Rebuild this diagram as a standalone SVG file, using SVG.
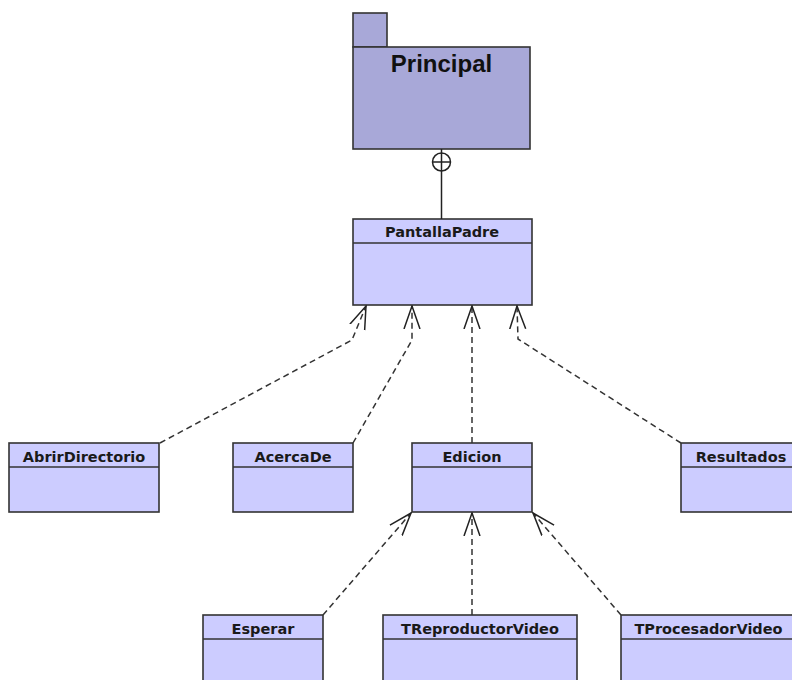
<svg xmlns="http://www.w3.org/2000/svg" width="792" height="680" viewBox="0 0 792 680">
  <style>
    .cls { fill: #ccccff; stroke: #333333; stroke-width: 1.6; }
    .pkg { fill: #a8a8d8; stroke: #333333; stroke-width: 1.6; }
    .name { font-family: "DejaVu Sans", sans-serif; font-weight: bold; font-size: 14.5px; fill: #1a1a1a; text-anchor: middle; }
    .pkgname { font-family: "Liberation Sans", Arial, sans-serif; font-weight: bold; font-size: 24px; fill: #111111; text-anchor: middle; }
    .dep { fill: none; stroke: #333333; stroke-width: 1.5; stroke-dasharray: 6 4; }
    .solid { fill: none; stroke: #222222; stroke-width: 1.5; }
  </style>
  <defs>
    <!-- open arrowhead for dependencies, tip at the end of the line -->
    <marker id="open" viewBox="0 0 24 20" refX="23" refY="10" markerWidth="24" markerHeight="20" markerUnits="userSpaceOnUse" orient="auto">
      <path d="M0,2 L23,10 L0,18" fill="none" stroke="#222222" stroke-width="1.5"/>
    </marker>
  </defs>
  <rect width="792" height="680" fill="#ffffff"/>

  <g id="Principal">
    <rect class="pkg" x="353" y="13" width="34" height="34"/>
    <rect class="pkg" x="353" y="47" width="177" height="102"/>
    <text class="pkgname" x="441.5" y="72">Principal</text>
  </g>

  <g id="PantallaPadre">
    <rect class="cls" x="353" y="219" width="179" height="86"/>
    <line class="cls" x1="353" y1="243" x2="532" y2="243"/>
    <text class="name" x="442" y="237">PantallaPadre</text>
  </g>

  <g id="AbrirDirectorio">
    <rect class="cls" x="9" y="443" width="150" height="69"/>
    <line class="cls" x1="9" y1="467" x2="159" y2="467"/>
    <text class="name" x="84" y="462">AbrirDirectorio</text>
  </g>

  <g id="AcercaDe">
    <rect class="cls" x="233" y="443" width="120" height="69"/>
    <line class="cls" x1="233" y1="467" x2="353" y2="467"/>
    <text class="name" x="293" y="462">AcercaDe</text>
  </g>

  <g id="Edicion">
    <rect class="cls" x="412" y="443" width="120" height="69"/>
    <line class="cls" x1="412" y1="467" x2="532" y2="467"/>
    <text class="name" x="472" y="462">Edicion</text>
  </g>

  <g id="Resultados">
    <rect class="cls" x="681" y="443" width="120" height="69"/>
    <line class="cls" x1="681" y1="467" x2="801" y2="467"/>
    <text class="name" x="741" y="462">Resultados</text>
  </g>

  <g id="Esperar">
    <rect class="cls" x="203" y="615" width="120" height="80"/>
    <line class="cls" x1="203" y1="639" x2="323" y2="639"/>
    <text class="name" x="263" y="634">Esperar</text>
  </g>

  <g id="TReproductorVideo">
    <rect class="cls" x="383" y="615" width="194" height="80"/>
    <line class="cls" x1="383" y1="639" x2="577" y2="639"/>
    <text class="name" x="480" y="634">TReproductorVideo</text>
  </g>

  <g id="TProcesadorVideo">
    <rect class="cls" x="621" y="615" width="175" height="80"/>
    <line class="cls" x1="621" y1="639" x2="796" y2="639"/>
    <text class="name" x="708.5" y="634">TProcesadorVideo</text>
  </g>

  <g id="connectors">
    <!-- containment: PantallaPadre nested in Principal -->
    <line class="solid" x1="441.5" y1="149" x2="441.5" y2="153"/>
    <circle cx="441.5" cy="162" r="9" fill="#ffffff" stroke="#222222" stroke-width="1.5"/>
    <line class="solid" x1="432.5" y1="162" x2="450.5" y2="162"/>
    <line class="solid" x1="441.5" y1="153" x2="441.5" y2="171"/>
    <line class="solid" x1="441.5" y1="171" x2="441.5" y2="219"/>

    <!-- dependencies on PantallaPadre -->
    <polyline class="dep" points="160,443 352,340 366,306" marker-end="url(#open)"/>
    <polyline class="dep" points="353,443 412,340 412,306" marker-end="url(#open)"/>
    <polyline class="dep" points="472,443 472,306" marker-end="url(#open)"/>
    <polyline class="dep" points="681,443 518,339 517,306" marker-end="url(#open)"/>

    <!-- dependencies on Edicion -->
    <polyline class="dep" points="323,615 411,513" marker-end="url(#open)"/>
    <polyline class="dep" points="472,615 472,513" marker-end="url(#open)"/>
    <polyline class="dep" points="621,615 533,513" marker-end="url(#open)"/>
  </g>
</svg>
